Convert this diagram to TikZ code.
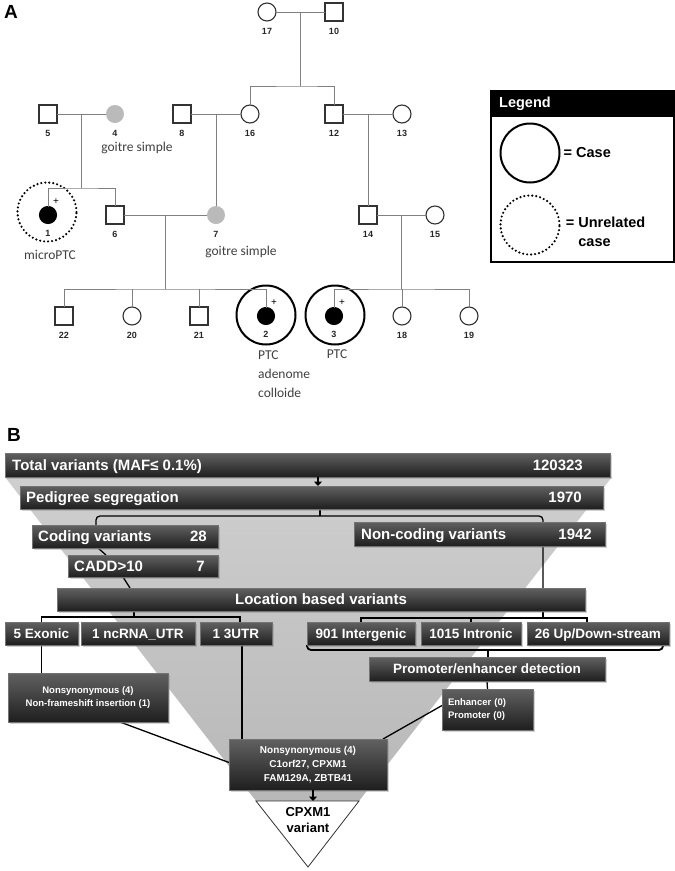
\documentclass[tikz,border=0pt]{standalone}
\usepackage{fontspec}
\setmainfont{Liberation Sans}
\newfontfamily\notefont{Carlito}
\usetikzlibrary{positioning,calc,shadows,arrows.meta}
\pgfdeclarelayer{back}
\pgfdeclarelayer{links}
\pgfsetlayers{back,links,main}

\newcommand\Person[4]{%
    \node[#1] (#2) at (#3) {};
    \node[idnum, below=7pt of #2] (#2n) {#4};
}
\newcommand\PlusMark[1]{%
    \node[plusmark] (#1p) at ($(#1)+(8,-13)$) {+};
}

\tikzset{
    pedline/.style={draw=black!50, line width=0.9pt},
    male/.style={rectangle, draw=black!80, line width=1.1pt, fill=white, minimum size=18pt, inner sep=0pt, outer sep=0pt},
    female/.style={circle, draw=black!80, line width=1.1pt, fill=white, minimum size=18pt, inner sep=0pt, outer sep=0pt},
    goitre/.style={female, draw=none, fill=black!27},
    affected/.style={female, draw=black, fill=black, minimum size=17pt},
    idnum/.style={inner sep=0pt, text=black!85, font=\bfseries\fontsize{9}{10}\selectfont},
    plusmark/.style={inner sep=0pt, font=\fontsize{10}{10}\selectfont},
    note/.style={inner sep=0pt, align=left, text=black!75, font=\notefont\fontsize{13.5}{19}\selectfont},
    casering/.style={circle, draw=black, line width=2pt, minimum size=59pt, inner sep=0pt},
    unrelring/.style={casering, line width=2.4pt, line cap=round, dash pattern=on 0pt off 4pt},
    legtxt/.style={inner sep=0pt, align=left, font=\bfseries\fontsize{14.5}{19}\selectfont},
    bar/.style={anchor=north west, inner sep=0pt, outer sep=0pt, draw=black!55, line width=0.3pt,
        top color=black!62, bottom color=black!88, text=white,
        drop shadow={shadow xshift=2pt, shadow yshift=-2pt, opacity=0.35}},
    bigtxt/.style={inner sep=0pt, text=white, text height=10.7pt, text depth=0pt, font=\bfseries\fontsize{15}{17}\selectfont},
    midtxt/.style={text height=9.7pt, text depth=0pt, font=\bfseries\fontsize{13.5}{16}\selectfont},
    smalltxt/.style={align=center, font=\bfseries\fontsize{9.5}{12.5}\selectfont},
    link/.style={draw=black, line width=1.3pt},
    flowarrow/.style={draw=black, line width=2.6pt, -{Triangle[width=8pt,length=4.5pt]}},
}

\begin{document}
\begin{tikzpicture}[x=1pt, y=-1pt]
    \useasboundingbox (0,0) rectangle (675,871);

    % A
    \node[inner sep=0pt, font=\bfseries\fontsize{19}{20}\selectfont] (panelA) at (11,12) {A};
    \Person{female}{p17}{267,12}{17}
    \Person{male}{p10}{334,12}{10}
    \Person{male}{p5}{48,114}{5}
    \Person{goitre}{p4}{115,114}{4}
    \Person{male}{p8}{182,114}{8}
    \Person{female}{p16}{250,114}{16}
    \Person{male}{p12}{334,114}{12}
    \Person{female}{p13}{402,114}{13}
    \Person{affected}{p1}{48,215}{1}
    \Person{male}{p6}{115,215}{6}
    \Person{goitre}{p7}{216,215}{7}
    \Person{male}{p14}{368,215}{14}
    \Person{female}{p15}{435,215}{15}
    \Person{male}{p22}{64,316}{22}
    \Person{female}{p20}{132,316}{20}
    \Person{male}{p21}{199,316}{21}
    \Person{affected}{p2}{266,316}{2}
    \Person{affected}{p3}{334,316}{3}
    \Person{female}{p18}{402,316}{18}
    \Person{female}{p19}{469,316}{19}
    \PlusMark{p1}
    \PlusMark{p2}
    \PlusMark{p3}
    \node[unrelring] (ring1) at (47,212) {};
    \node[casering] (ring2) at (266,315) {};
    \node[casering] (ring3) at (335,315) {};

    \node[note] (n4) at (137,148) {goitre simple};
    \node[note] (n7) at (241,252) {goitre simple};
    \node[note] (n1) at (50,255) {microPTC};
    \node[note, anchor=north west] (n2) at (258,351) {PTC\\adenome\\colloide};
    \node[note] (n3) at (337,354) {PTC};

    \coordinate (d1) at ($(p17)!.5!(p10)$);
    \coordinate (s1) at (300.5,86);
    \coordinate (d2) at ($(p5)!.5!(p4)$);
    \coordinate (s2) at (81.5,188);
    \coordinate (d3) at ($(p8)!.5!(p16)$);
    \coordinate (d4) at ($(p12)!.5!(p13)$);
    \coordinate (d5) at ($(p6)!.5!(p7)$);
    \coordinate (s3) at (165.5,289);
    \coordinate (d6) at ($(p14)!.5!(p15)$);
    \coordinate (s4) at (401.5,289);
    \draw[pedline] (p17) -- (p10);
    \draw[pedline] (d1) -- (s1);
    \draw[pedline] (p16) |- (s1) -| (p12);
    \draw[pedline] (p5) -- (p4);
    \draw[pedline] (d2) -- (s2);
    \draw[pedline] (p1) |- (s2) -| (p6);
    \draw[pedline] (p8) -- (p16);
    \draw[pedline] (d3) -- (d3 |- p7.north);
    \draw[pedline] (p12) -- (p13);
    \draw[pedline] (d4) -- (p14);
    \draw[pedline] (p6) -- (p7);
    \draw[pedline] (d5) -- (s3);
    \draw[pedline] (p22) |- (s3) -| (p2);
    \draw[pedline] (p20) -- (p20 |- s3);
    \draw[pedline] (p21) -- (p21 |- s3);
    \draw[pedline] (p14) -- (p15);
    \draw[pedline] (d6) -- (s4);
    \draw[pedline] (p3) |- (s4) -| (p19);
    \draw[pedline] (p18) -- (p18 |- s4);

    % legend
    \node[fill=black, minimum width=183pt, minimum height=27pt, anchor=north west, inner sep=0pt] (leghead) at (490,90) {};
    \node[draw=black, line width=1.6pt, minimum width=183pt, minimum height=171pt, anchor=north west, inner sep=0pt] (legend) at (490,90) {};
    \node[legtxt, text=white, anchor=west] (legtitle) at ([xshift=9pt]leghead.west) {Legend};
    \node[casering] (legcase) at (530,153) {};
    \node[legtxt, right=3pt of legcase] (legcaset) {= Case};
    \node[unrelring] (legunrel) at (530,225) {};
    \node[legtxt, anchor=west] (legunrelt) at ([xshift=5pt,yshift=-7pt]legunrel.east) {= Unrelated\\\phantom{= }case};

    % B
    \node[inner sep=0pt, font=\bfseries\fontsize{19}{20}\selectfont] (panelB) at (14,435) {B};
    \begin{pgfonlayer}{back}
        \shade[top color=black!19, bottom color=black!28] (5,477) -- (612,477) -- (359,801) -- (256,801) -- cycle;
    \end{pgfonlayer}

    \node[bar, minimum width=605pt, minimum height=24pt] (total) at (5,453) {};
    \node[bigtxt, anchor=west] (totalt) at ([xshift=7pt]total.west) {Total variants (MAF≤ 0.1\%)};
    \node[bigtxt, anchor=east] (totaln) at ([xshift=-27pt]total.east) {120323};
    \node[bar, minimum width=583pt, minimum height=23pt] (pedseg) at (20,486) {};
    \node[bigtxt, anchor=west] (pedsegt) at ([xshift=6pt]pedseg.west) {Pedigree segregation};
    \node[bigtxt, anchor=east] (pedsegn) at ([xshift=-21pt]pedseg.east) {1970};
    \draw[flowarrow] ([xshift=10.5pt]total.south) -- ([xshift=6.5pt]pedseg.north);
    \node[bar, minimum width=186pt, minimum height=23pt] (coding) at (32,525) {};
    \node[bigtxt, anchor=west] (codingt) at ([xshift=6pt]coding.west) {Coding variants};
    \node[bigtxt, anchor=east] (codingn) at ([xshift=-11pt]coding.east) {28};
    \node[bar, minimum width=251pt, minimum height=24pt] (noncoding) at (354,522) {};
    \node[bigtxt, anchor=west] (noncodingt) at ([xshift=7pt]noncoding.west) {Non-coding variants};
    \node[bigtxt, anchor=east] (noncodingn) at ([xshift=-13pt]noncoding.east) {1942};
    \node[bar, minimum width=150pt, minimum height=22pt] (cadd) at (68,555) {};
    \node[bigtxt, anchor=west] (caddt) at ([xshift=6pt]cadd.west) {CADD>10};
    \node[bigtxt, anchor=east] (caddn) at ([xshift=-13pt]cadd.east) {7};
    \node[bar, bigtxt, minimum width=528pt, minimum height=23pt] (location) at (57,588) {Location based variants};

    \node[bar, midtxt, minimum width=73pt, minimum height=23pt] (exonic) at (5,622) {5 Exonic};
    \node[bar, midtxt, minimum width=114pt, minimum height=23pt] (ncrna) at (81,622) {1 ncRNA\_UTR};
    \node[bar, midtxt, minimum width=72pt, minimum height=23pt] (utr) at (200,622) {1 3UTR};
    \node[bar, midtxt, minimum width=108pt, minimum height=23pt] (intergenic) at (307,622) {901 Intergenic};
    \node[bar, midtxt, minimum width=100pt, minimum height=23pt] (intronic) at (421,622) {1015 Intronic};
    \node[bar, midtxt, minimum width=142pt, minimum height=23pt] (updown) at (527,622) {26 Up/Down-stream};
    \node[bar, midtxt, minimum width=236pt, minimum height=24pt] (promoter) at (369,657) {Promoter/enhancer detection};
    \node[bar, smalltxt, align=left, text width=79pt, minimum width=91pt, minimum height=41pt] (enh) at (442,689) {Enhancer (0)\\Promoter (0)};
    \node[bar, smalltxt, minimum width=160pt, minimum height=49pt] (nonsyn) at (8,673) {Nonsynonymous (4)\\Non-frameshift insertion (1)};
    \node[bar, smalltxt, font=\bfseries\fontsize{10}{14}\selectfont, minimum width=158pt, minimum height=51pt] (final) at (229,739) {Nonsynonymous (4)\\C1orf27, CPXM1\\FAM129A, ZBTB41};

    \coordinate (triL) at (256,801);
    \coordinate (triR) at (359,801);
    \coordinate (triB) at (308,867);
    \coordinate (tritop) at (313,801);
    \draw[fill=white, draw=black!80, line width=0.8pt] (triL) -- (triR) -- (triB) -- cycle;
    \node[align=center, inner sep=0pt, font=\bfseries\fontsize{13}{16}\selectfont] (cpxm) at (308,820) {CPXM1\\variant};
    \draw[flowarrow] ([xshift=5pt]final.south) -- (tritop);

    \begin{pgfonlayer}{links}
        \coordinate (split) at (320,516);
        \coordinate (locL) at (134,617);
        \coordinate (locR) at (543,618);
        \coordinate (lowR) at (488,650);
        \coordinate (utrb) at ([xshift=6pt]utr.south);
        \draw[link] (pedseg.south -| split) -- (split);
        \draw[link, rounded corners=4pt] ([xshift=-29pt]coding.north) |- (split) -| ([xshift=222pt]location.north);
        \draw[link] ([xshift=-27pt]coding.south) -- ([xshift=-37pt]cadd.north);
        \draw[link] ([xshift=-20pt]cadd.south) -- ([xshift=-191pt]location.north);
        \draw[link] (location.south -| locL) -- (locL);
        \draw[link] (exonic.north) |- (locL) -| ([xshift=4pt]utr.north);
        \draw[link] (location.south -| locR) -- (locR);
        \draw[link] (intergenic.north) |- (locR) -| ([xshift=-11pt]updown.north);
        \draw[link] (intronic.north) -- (intronic.north |- locR);
        \draw[link, line width=1.8pt, rounded corners=4pt] (intergenic.south west) |- (lowR) -| ([xshift=-6pt]updown.south east);
        \draw[link, line width=1.8pt] (lowR) -- (promoter.north -| lowR);
        \draw[link] (promoter.south) -- (enh.north);
        \draw[link] (exonic.south) -- (exonic.south |- nonsyn.north);
        \draw[link] ([xshift=32pt]nonsyn.south) -- ([yshift=2pt]final.west);
        \draw[link] (utrb) -- (utrb |- final.north);
        \draw[link] ([yshift=4pt]enh.west) -- ([xshift=-4pt]final.north east);
    \end{pgfonlayer}
\end{tikzpicture}
\end{document}
